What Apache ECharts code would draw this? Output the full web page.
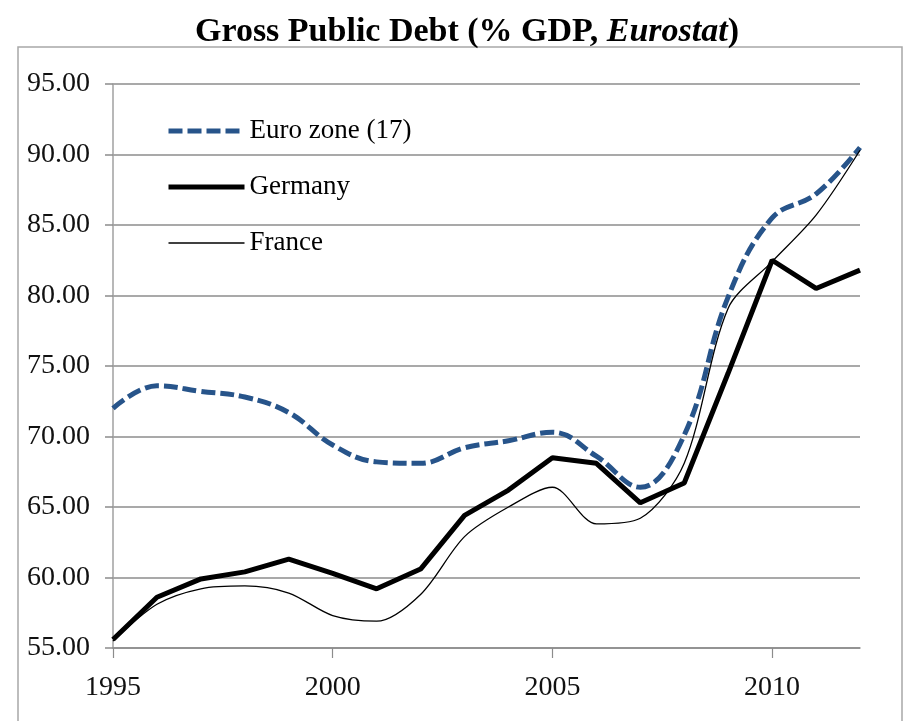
<!DOCTYPE html>
<html>
<head>
<meta charset="utf-8">
<script src="https://cdn.jsdelivr.net/npm/echarts@6/dist/echarts.min.js"></script>
<style>
  html, body { margin: 0; padding: 0; background: #ffffff; }
  #chart { width: 903px; height: 721px; }
</style>
</head>
<body>
<div id="chart"></div>
<script>
// Gross public debt, % of GDP (Eurostat), 1995–2012
const years = [1995, 1996, 1997, 1998, 1999, 2000, 2001, 2002, 2003,
               2004, 2005, 2006, 2007, 2008, 2009, 2010, 2011, 2012];
const euroZone = [72.0, 73.6, 73.2, 72.8, 71.7, 69.4, 68.2, 68.1, 69.2,
                  69.7, 70.3, 68.6, 66.4, 70.1, 79.9, 85.5, 87.2, 90.5];
const germany = [55.6, 58.6, 59.9, 60.4, 61.3, 60.3, 59.2, 60.6, 64.4,
                 66.2, 68.5, 68.1, 65.3, 66.7, 74.5, 82.5, 80.5, 81.8];
const france = [55.5, 58.1, 59.2, 59.4, 58.9, 57.3, 56.9, 58.8, 62.9,
                65.0, 66.4, 63.8, 64.2, 68.1, 79.1, 82.4, 85.7, 90.3];
const seriesNames = ['Euro zone (17)', 'Germany', 'France'];
const yearTicks = [1995, 2000, 2005, 2010];

const pairs = vals => years.map((y, i) => [y, vals[i]]);

const serif = '"Liberation Serif", "Times New Roman", serif';
const gridColor = '#8c8c8c';
const euroBlue = '#27548a';

const styles = [
  { color: euroBlue, width: 5, type: [14, 5], cap: 'butt' },
  { color: '#000000', width: 5, type: 'solid', cap: 'butt' },
  { color: '#000000', width: 1.3, type: 'solid', cap: 'butt' }
];

const chart = echarts.init(document.getElementById('chart'), null, { renderer: 'canvas' });

chart.setOption({
  animation: false,
  backgroundColor: '#ffffff',
  title: {
    text: '{b|Gross Public Debt (% GDP, }{i|Eurostat}{b|)}',
    left: 467,
    top: 15,
    padding: 0,
    textAlign: 'center',
    textStyle: {
      rich: {
        b: { fontFamily: serif, fontSize: 34, fontWeight: 'bold', color: '#000' },
        i: { fontFamily: serif, fontSize: 34, fontStyle: 'italic', color: '#000' }
      }
    }
  },
  graphic: [{
    type: 'rect',
    z: -10,
    silent: true,
    shape: { x: 18, y: 47, width: 884, height: 700 },
    style: { fill: 'none', stroke: '#a8a8a8', lineWidth: 1.5 }
  }],
  legend: {
    orient: 'vertical',
    left: 166,
    top: 117,
    padding: 0,
    itemWidth: 76,
    itemHeight: 20,
    itemGap: 28,
    data: seriesNames.map((name, i) => ({
      name,
      lineStyle: styles[i],
      itemStyle: { color: 'rgba(0,0,0,0)', borderWidth: 0, opacity: 0 }
    })),
    textStyle: { fontFamily: serif, fontSize: 27, color: '#000', lineHeight: 28 }
  },
  grid: { left: 113, right: 43, top: 84, bottom: 73, containLabel: false },
  xAxis: {
    type: 'value',
    min: 1995,
    max: 2012,
    interval: 5,
    axisLine: { show: true, lineStyle: { color: gridColor, width: 1.5 } },
    axisTick: { show: true, length: 10, customValues: yearTicks, lineStyle: { color: gridColor, width: 1.2 } },
    axisLabel: {
      customValues: yearTicks,
      margin: 26,
      fontFamily: serif,
      fontSize: 28,
      color: '#111',
      formatter: v => String(v)
    },
    splitLine: { show: false }
  },
  yAxis: {
    type: 'value',
    min: 55,
    max: 95,
    interval: 5,
    axisLine: { show: true, lineStyle: { color: '#a0a0a0', width: 1.5 } },
    axisTick: { show: true, length: 8, lineStyle: { color: gridColor, width: 1.5 } },
    axisLabel: {
      margin: 23,
      fontFamily: serif,
      fontSize: 28,
      color: '#111',
      formatter: v => v.toFixed(2)
    },
    splitLine: { show: true, lineStyle: { color: gridColor, width: 1.5 } }
  },
  series: [
    {
      name: seriesNames[0],
      type: 'line',
      data: pairs(euroZone),
      showSymbol: false,
      symbol: 'none',
      smooth: 0.4,
      z: 3,
      lineStyle: styles[0],
      itemStyle: { color: euroBlue }
    },
    {
      name: seriesNames[1],
      type: 'line',
      data: pairs(germany),
      showSymbol: false,
      symbol: 'none',
      z: 4,
      lineStyle: styles[1],
      itemStyle: { color: '#000000' }
    },
    {
      name: seriesNames[2],
      type: 'line',
      data: pairs(france),
      showSymbol: false,
      symbol: 'none',
      smooth: 0.3,
      z: 5,
      lineStyle: styles[2],
      itemStyle: { color: '#000000' }
    }
  ]
});
</script>
</body>
</html>
